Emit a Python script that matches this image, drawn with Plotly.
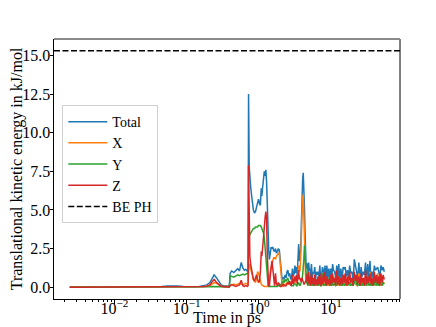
import numpy as np
import plotly.graph_objects as go

# ---- data (time in ps, energies in kJ/mol) ----
time_ps = [
    0.0024, 0.003, 0.004, 0.005, 0.0065, 0.008, 0.01, 0.013, 0.016, 0.02, 0.025, 0.03,
    0.037, 0.045, 0.055, 0.065, 0.075, 0.09, 0.11, 0.13, 0.15, 0.17, 0.19,
    0.21, 0.225, 0.24, 0.26, 0.28, 0.30, 0.33, 0.36, 0.39, 0.40, 0.42, 0.45, 0.48, 0.51,
    0.54, 0.57, 0.60, 0.63, 0.66, 0.69, 0.71,
    0.72, 0.735, 0.75, 0.77, 0.79, 0.81, 0.84, 0.87, 0.90, 0.93, 0.96, 0.99, 1.02, 1.05,
    1.08, 1.10, 1.13, 1.16, 1.19, 1.22, 1.25, 1.28, 1.31, 1.34, 1.37, 1.40, 1.44, 1.48,
    1.52, 1.56, 1.60, 1.65, 1.70, 1.75, 1.80, 1.86, 1.92, 1.98, 2.04, 2.10, 2.17, 2.24,
    2.31, 2.38, 2.45, 2.52, 2.60, 2.68, 2.76, 2.84, 2.92, 3.00, 3.08, 3.16, 3.24, 3.32,
    3.40, 3.48, 3.56, 3.64, 3.72, 3.80, 3.88, 3.96, 4.04, 4.12, 4.20, 4.28, 4.36, 4.44,
    4.52, 4.60,
    4.7, 4.8, 4.9, 5.0, 5.1, 5.2, 5.35, 5.5, 5.65, 5.8, 5.95, 6.1, 6.25, 6.4, 6.6, 6.8,
    7.0, 7.2, 7.4, 7.6, 7.8, 8.0, 8.25, 8.5, 8.75, 9.0, 9.3, 9.6, 9.9, 10.2, 10.5, 10.8,
    11.2, 11.6, 12.0, 12.4, 12.8, 13.2, 13.7, 14.2, 14.7, 15.2, 15.7, 16.3, 16.9, 17.5,
    18.1, 18.8, 19.5, 20.2, 21.0, 21.8, 22.6, 23.4, 24.3, 25.2, 26.1, 27.0, 28.0, 29.0,
    30.0, 31.1, 32.2, 33.4, 34.6, 35.8, 37.1, 38.4, 39.8, 41.2, 42.7, 44.2, 45.8, 47.4,
    49.1, 50.9, 52.7, 54.6,
]

total = [
    0.01, 0.01, 0.01, 0.01, 0.01, 0.01, 0.01, 0.01, 0.01, 0.01, 0.02, 0.02,
    0.03, 0.05, 0.07, 0.08, 0.07, 0.05, 0.03, 0.03, 0.05, 0.10, 0.15,
    0.30, 0.60, 0.80, 0.60, 0.35, 0.15, 0.08, 0.06, 0.08, 0.90, 1.05, 0.95, 1.10, 1.20,
    1.05, 1.60, 1.25, 1.10, 1.15, 1.05, 1.10,
    12.5, 7.8, 7.0, 6.5, 6.0, 5.5, 5.0, 4.8, 4.9, 5.2, 5.6, 5.7, 5.4, 5.3,
    6.4, 5.9, 6.5, 7.2, 7.5, 7.2, 7.6, 6.8, 4.8, 3.0, 2.4, 1.8, 2.3, 2.6,
    2.5, 2.6, 2.4, 2.3, 2.5, 2.2, 2.3, 2.5, 2.4, 1.6, 0.8, 0.5, 0.6, 0.5,
    0.8, 0.6, 1.0, 1.1, 0.7, 0.9, 0.5, 0.6, 1.2, 0.7, 0.9, 1.4, 0.9, 1.3,
    0.8, 1.6, 2.8, 1.7, 1.8, 2.6, 4.5, 6.3, 7.0, 7.4, 6.5, 5.2, 3.6, 2.0,
    1.2, 1.5,
    1.5, 0.9, 1.6, 1.1, 1.2, 0.7, 1.5, 0.6, 1.0, 0.9, 1.3, 0.4, 1.0, 0.8, 1.0, 0.7,
    1.4, 0.3, 1.2, 1.3, 1.1, 0.7, 1.4, 0.5, 1.4, 0.6, 1.2, 0.5, 1.2, 0.4, 1.5, 1.1,
    1.0, 0.6, 1.4, 0.7, 1.5, 0.4, 1.2, 0.4, 1.3, 1.2, 1.3, 0.7, 1.1, 0.6,
    1.4, 0.9, 1.0, 0.3, 1.8, 1.4, 1.1, 0.6, 1.6, 0.4, 1.3, 0.7, 1.0, 0.8,
    1.6, 0.4, 1.5, 0.6, 1.7, 0.5, 1.0, 0.6, 1.4, 1.1, 1.2, 1.3, 1.0, 0.6,
    1.4, 1.1, 1.3, 1.0,
]

x_comp = [
    0.0, 0.0, 0.0, 0.0, 0.0, 0.0, 0.0, 0.0, 0.0, 0.0, 0.01, 0.01,
    0.01, 0.02, 0.02, 0.03, 0.02, 0.02, 0.01, 0.01, 0.02, 0.04, 0.06,
    0.10, 0.20, 0.30, 0.25, 0.15, 0.06, 0.04, 0.03, 0.05, 0.10, 0.15, 0.20, 0.15, 0.20,
    0.25, 0.20, 0.15, 0.20, 0.25, 0.20, 0.30,
    1.0, 1.5, 1.4, 1.2, 0.9, 0.7, 0.5, 0.4, 0.3, 0.6, 1.0, 0.9, 0.6, 0.3,
    0.2, 0.15, 0.1, 0.05, 0.05, 0.05, 0.05, 0.05, 0.05, 0.1, 0.3, 0.6, 1.0, 1.3,
    1.5, 1.7, 1.9, 1.9, 1.8, 2.0, 2.1, 2.2, 2.2, 1.4, 0.5, 0.1, 0.05, 0.1,
    0.2, 0.15, 0.3, 0.2, 0.2, 0.3, 0.2, 0.3, 0.3, 0.4, 0.3, 0.5, 0.3, 0.4,
    0.5, 0.8, 1.4, 1.0, 1.1, 2.0, 3.8, 5.2, 5.8, 6.0, 4.5, 2.3, 1.2, 0.6,
    0.3, 0.4,
    0.3, 0.5, 0.2, 0.1, 0.2, 0.4, 0.1, 0.3, 0.2, 0.6, 0.2, 0.1, 0.3, 0.2, 0.1, 0.4,
    0.2, 0.1, 0.5, 0.2, 0.1, 0.3, 0.2, 0.1, 0.6, 0.2, 0.1, 0.3, 0.2, 0.1, 0.3, 0.7,
    0.2, 0.1, 0.2, 0.3, 0.1, 0.2, 0.4, 0.1, 0.3, 0.8, 0.2, 0.1, 0.3, 0.2,
    0.1, 0.5, 0.2, 0.1, 0.4, 0.2, 0.1, 0.3, 0.9, 0.2, 0.1, 0.3, 0.2, 0.6,
    0.2, 0.1, 0.3, 0.2, 1.0, 0.2, 0.1, 0.4, 0.2, 0.1, 0.3, 0.9, 0.2, 0.1,
    0.3, 0.7, 0.2, 0.3,
]

y_comp = [
    0.0, 0.0, 0.0, 0.0, 0.0, 0.0, 0.0, 0.0, 0.0, 0.0, 0.0, 0.0,
    0.01, 0.01, 0.02, 0.02, 0.02, 0.01, 0.01, 0.01, 0.01, 0.02, 0.03,
    0.03, 0.05, 0.05, 0.05, 0.04, 0.03, 0.02, 0.02, 0.02, 0.70, 0.70, 0.65, 0.75, 0.80,
    0.75, 0.80, 0.85, 0.80, 0.85, 0.90, 0.85,
    3.3, 3.3, 3.4, 3.5, 3.6, 3.7, 3.8, 3.8, 3.9, 3.9, 3.9, 4.0, 4.0, 4.0,
    3.9, 3.8, 3.7, 3.5, 3.2, 2.6, 1.8, 1.3, 0.5, 0.2, 0.05, 0.05, 0.05, 0.05,
    0.05, 0.05, 0.05, 0.05, 0.05, 0.05, 0.05, 0.1, 0.1, 0.1, 0.2, 0.3, 0.4, 0.3,
    0.5, 0.4, 0.5, 0.6, 0.3, 0.2, 0.2, 0.1, 0.1, 0.1, 0.2, 0.2, 0.2, 0.1,
    0.1, 0.2, 0.3, 0.2, 0.1, 0.2, 0.3, 0.5, 0.8, 1.2, 1.8, 2.7, 2.0, 1.0,
    0.5, 0.3,
    0.2, 0.1, 0.3, 0.6, 0.2, 0.1, 0.4, 0.1, 0.2, 0.1, 0.3, 0.1, 0.2, 0.5, 0.2, 0.1,
    0.3, 0.1, 0.1, 0.9, 0.2, 0.1, 0.2, 0.3, 0.1, 0.2, 0.6, 0.1, 0.2, 0.1, 0.3, 0.1,
    0.2, 0.4, 0.1, 0.2, 0.7, 0.1, 0.2, 0.1, 0.3, 0.1, 0.2, 0.5, 0.1, 0.2,
    0.3, 0.1, 0.2, 0.1, 0.3, 0.8, 0.2, 0.1, 0.2, 0.1, 0.4, 0.1, 0.2, 0.1,
    0.3, 0.1, 0.6, 0.1, 0.2, 0.1, 0.3, 0.1, 0.2, 0.7, 0.1, 0.2, 0.1, 0.4,
    0.2, 0.1, 0.3, 0.2,
]

z_comp = [
    0.0, 0.0, 0.0, 0.0, 0.0, 0.0, 0.0, 0.0, 0.0, 0.0, 0.01, 0.01,
    0.01, 0.02, 0.03, 0.03, 0.03, 0.02, 0.01, 0.01, 0.02, 0.04, 0.06,
    0.15, 0.35, 0.50, 0.30, 0.15, 0.06, 0.03, 0.02, 0.02, 0.10, 0.15, 0.10, 0.05, 0.10,
    0.15, 0.45, 0.10, 0.05, 0.10, 0.05, 0.10,
    7.9, 2.8, 2.0, 1.5, 1.2, 0.9, 0.5, 0.4, 0.6, 0.8, 0.5, 0.3, 0.4, 1.0,
    2.3, 2.0, 2.6, 3.5, 4.2, 4.5, 4.9, 4.4, 2.0, 0.3, 0.05, 0.1, 0.9, 1.3,
    1.7, 1.0, 0.4, 0.1, 0.9, 0.2, 0.1, 0.3, 0.2, 0.05, 0.05, 0.1, 0.2, 0.1,
    0.1, 0.1, 0.2, 0.3, 0.2, 0.4, 0.1, 0.2, 0.8, 0.2, 0.4, 0.7, 0.4, 0.8,
    0.2, 0.6, 1.1, 0.5, 0.6, 0.4, 0.4, 0.6, 0.4, 0.2, 0.2, 0.2, 0.4, 0.4,
    0.4, 0.8,
    0.9, 0.2, 1.0, 0.3, 0.7, 0.1, 0.9, 0.2, 0.6, 0.1, 0.8, 0.2, 0.5, 0.1, 0.7, 0.2,
    0.9, 0.1, 0.6, 0.2, 0.8, 0.3, 1.0, 0.1, 0.7, 0.2, 0.5, 0.1, 0.8, 0.2, 0.9, 0.3,
    0.6, 0.1, 1.1, 0.2, 0.7, 0.1, 0.6, 0.2, 0.8, 0.3, 0.9, 0.1, 0.7, 0.2,
    1.0, 0.3, 0.6, 0.1, 1.0, 0.4, 0.8, 0.2, 0.7, 0.1, 0.9, 0.3, 0.6, 0.1,
    1.1, 0.2, 0.7, 0.3, 0.9, 0.2, 0.6, 0.1, 1.0, 0.3, 0.8, 0.2, 0.7, 0.1,
    0.9, 0.3, 0.8, 0.5,
]

be_ph = 15.3  # binding energy reference

series_names = ["Total", "X", "Y", "Z"]
series_colors = ["#1f77b4", "#ff7f0e", "#2ca02c", "#d62728"]
x_tick_vals = [0.01, 0.1, 1, 10]
x_tick_text = ["10<sup>\u22122</sup>", "10<sup>\u22121</sup>", "10<sup>0</sup>", "10<sup>1</sup>"]
y_tick_vals = [0.0, 2.5, 5.0, 7.5, 10.0, 12.5, 15.0]

FONT = "Liberation Serif, Times New Roman, serif"

fig = go.Figure()
for name, vals, col in zip(series_names, [total, x_comp, y_comp, z_comp], series_colors):
    fig.add_trace(go.Scatter(x=time_ps, y=vals, mode="lines", name=name,
                             line=dict(color=col, width=1.5)))

# legend entry for the horizontal reference line
fig.add_trace(go.Scatter(x=[None], y=[None], mode="lines", name="BE PH",
                         line=dict(color="black", width=1.5, dash="6px,2.5px")))
fig.add_shape(type="line", xref="paper", x0=0, x1=1, yref="y", y0=be_ph, y1=be_ph,
              line=dict(color="black", width=1.5, dash="6px,2.5px"))

# matplotlib-like autoscale with 5% margins
lx = np.log10([min(time_ps), max(time_ps)])
mx = 0.05 * (lx[1] - lx[0])
ymin = min(min(total), min(x_comp), min(y_comp), min(z_comp))
ymax = max(max(total), be_ph)
my = 0.05 * (ymax - ymin)

minor_vals = [m * 10.0 ** e for e in range(-3, 2) for m in range(2, 10)]

# the page body adds an 8px offset, so the figure is 8px smaller
fig.update_layout(
    width=428, height=319,
    margin=dict(l=46, r=36, t=31, b=28),
    paper_bgcolor="white", plot_bgcolor="white",
    font=dict(family=FONT, size=16, color="black"),
    showlegend=True,
    legend=dict(x=0.024, y=0.746, xanchor="left", yanchor="top",
                bgcolor="rgba(255,255,255,0.8)", bordercolor="#d0d0d0", borderwidth=1,
                font=dict(family=FONT, size=14), itemwidth=39, tracegroupgap=0),
    xaxis=dict(type="log", range=[lx[0] - mx, lx[1] + mx],
               tickmode="array", tickvals=x_tick_vals, ticktext=x_tick_text,
               ticks="outside", ticklen=3.5, tickwidth=1, tickcolor="black",
               ticklabelstandoff=-9,
               minor=dict(tickmode="array", tickvals=minor_vals, ticks="outside",
                          ticklen=2, tickwidth=0.8, tickcolor="black", showgrid=False),
               showgrid=False, zeroline=False, showline=True, linecolor="black", linewidth=1,
               title=dict(text="Time in ps", standoff=7, font=dict(size=16)),
               automargin=False),
    yaxis=dict(range=[ymin - my, ymax + my],
               tickmode="array", tickvals=y_tick_vals, tickformat=".1f",
               ticks="outside", ticklen=3.5, tickwidth=1, tickcolor="black",
               ticklabelstandoff=-4,
               showgrid=False, zeroline=False, showline=True, linecolor="black", linewidth=1,
               title=dict(text="Translational kinetic energy in kJ/mol", standoff=10,
                          font=dict(size=16)),
               automargin=False),
)

# right and top spines
fig.add_shape(type="line", xref="paper", yref="paper", x0=1, x1=1, y0=0, y1=1,
              line=dict(color="black", width=1))
fig.add_shape(type="line", xref="paper", yref="paper", x0=0, x1=1, y0=1, y1=1,
              line=dict(color="#8a8a8a", width=2))

fig.write_html("out.html")
